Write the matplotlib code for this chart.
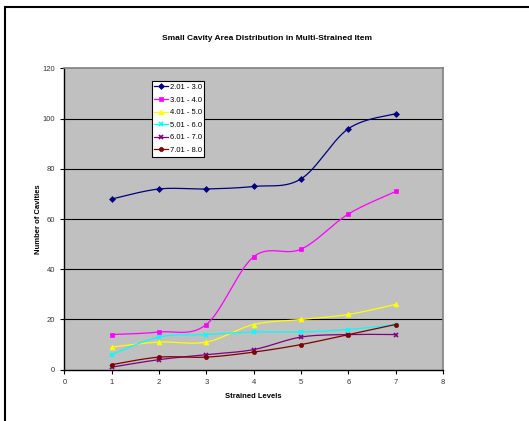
import numpy as np
import matplotlib
matplotlib.use("Agg")
import matplotlib.pyplot as plt
from matplotlib.patches import Rectangle

plt.rcParams['font.family'] = ['Liberation Sans', 'DejaVu Sans']

levels = [1, 2, 3, 4, 5, 6, 7]
labels = ['2.01 - 3.0', '3.01 - 4.0', '4.01 - 5.0', '5.01 - 6.0', '6.01 - 7.0', '7.01 - 8.0']
s1 = [68, 72, 72, 73, 76, 96, 102]
s2 = [14, 15, 18, 45, 48, 62, 71]
s3 = [9, 11, 11, 18, 20, 22, 26]
s4 = [6, 13, 14, 15, 15, 16, 18]
s5 = [1, 4, 6, 8, 13, 14, 14]
s6 = [2, 5, 5, 7, 10, 14, 18]
series = [s1, s2, s3, s4, s5, s6]

colors = ['#000080', '#FF00FF', '#FFFF00', '#00FFFF', '#800080', '#800000']
markers = ['D', 's', '^', 'x', 'x', 'o']
msizes = [3, 3, 3.5, 3.5, 3.5, 3]


def smooth(x, y, n=30):
    # catmull-rom style curve, like excel's smoothed lines
    x = np.asarray(x, float)
    y = np.asarray(y, float)
    px = np.concatenate([[x[0]], x, [x[-1]]])
    py = np.concatenate([[y[0]], y, [y[-1]]])
    xs, ys = [], []
    t = np.linspace(0, 1, n)
    for i in range(1, len(px) - 2):
        p0, p1, p2, p3 = px[i - 1], px[i], px[i + 1], px[i + 2]
        q0, q1, q2, q3 = py[i - 1], py[i], py[i + 1], py[i + 2]
        c1x, c1y = p1 + (p2 - p0) / 6, q1 + (q2 - q0) / 6
        c2x, c2y = p2 - (p3 - p1) / 6, q2 - (q3 - q1) / 6
        bx = (1 - t) ** 3 * p1 + 3 * (1 - t) ** 2 * t * c1x + 3 * (1 - t) * t ** 2 * c2x + t ** 3 * p2
        by = (1 - t) ** 3 * q1 + 3 * (1 - t) ** 2 * t * c1y + 3 * (1 - t) * t ** 2 * c2y + t ** 3 * q2
        xs.extend(bx)
        ys.extend(by)
    return xs, ys


fig = plt.figure(figsize=(5.29, 4.21), dpi=100)
fig.patches.append(Rectangle((5 / 529, -0.1), 1.2, 1 - 7 / 421 + 0.1, transform=fig.transFigure,
                             fill=False, edgecolor='black', linewidth=1.5))

ax = fig.add_axes([0.1216, 0.1219, 0.7158, 0.7154])
ax.set_facecolor('#C0C0C0')

for vals, lab, c, m, ms in zip(series, labels, colors, markers, msizes):
    sx, sy = smooth(levels, vals)
    ax.plot(sx, sy, color=c, linewidth=0.9)
    ax.plot(levels, vals, linestyle='none', marker=m, color=c, markersize=ms,
            markeredgewidth=1.2 if m == 'x' else 0.5)
    ax.plot([], [], color=c, marker=m, markersize=ms, linewidth=0.9, label=lab,
            markeredgewidth=1.2 if m == 'x' else 0.5)

ax.set_xlim(0, 8)
ax.set_ylim(0, 120)
ax.set_xticks(range(0, 9))
ax.set_yticks(range(0, 121, 20))
for yv in range(20, 120, 20):
    ax.axhline(yv, color='black', linewidth=0.8, zorder=0.5)

for side in ['top', 'right']:
    ax.spines[side].set_color('#808080')
    ax.spines[side].set_linewidth(1.2)
for side in ['left', 'bottom']:
    ax.spines[side].set_color('black')
    ax.spines[side].set_linewidth(1.0)

ax.tick_params(labelsize=5.5, length=3, width=0.8, colors='black', labelcolor='#333333')

ax.set_xlabel('Strained Levels', fontsize=5.5, fontweight='bold', labelpad=5)
ax.set_ylabel('Number of Cavities', fontsize=5.5, fontweight='bold')
ax.yaxis.set_label_coords(-0.059, 0.5)
fig.text(0.505, 1 - 38 / 421, 'Small Cavity Area Distribution in Multi-Strained Item',
         ha='center', va='center', fontsize=6, fontweight='bold')

leg = ax.legend(loc='upper left', bbox_to_anchor=(0.231, 0.958), fontsize=5.5,
                frameon=True, fancybox=False, edgecolor='black', framealpha=1,
                handlelength=1.8, handletextpad=0.2, labelspacing=0.68, borderpad=0.35,
                borderaxespad=0)
leg.get_frame().set_linewidth(0.8)

plt.savefig('out.png', dpi=100)
